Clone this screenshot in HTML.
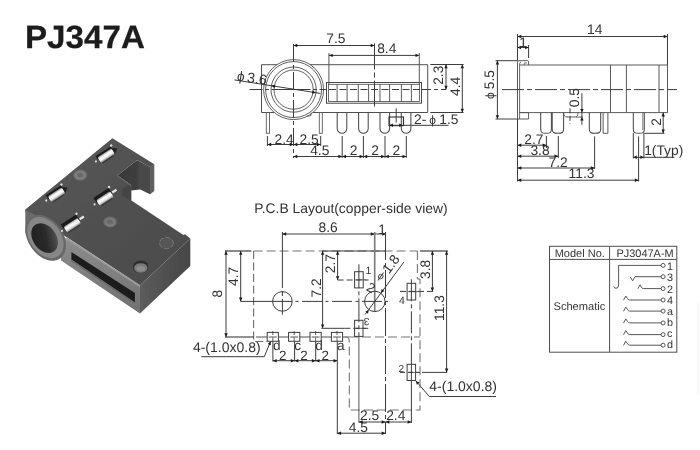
<!DOCTYPE html>
<html lang="en">
<head>
<meta charset="utf-8">
<title>PJ347A</title>
<style>
html,body{margin:0;padding:0;background:#fff;}
body{width:700px;height:450px;overflow:hidden;font-family:"Liberation Sans",Arial,Helvetica,sans-serif;}
svg{display:block;}
svg text{font-family:"Liberation Sans",Arial,Helvetica,sans-serif;text-rendering:geometricPrecision;}
</style>
</head>
<body>
<svg width="700" height="450" viewBox="0 0 700 450">
<rect x="0" y="0" width="700" height="450" fill="#ffffff"/>
<defs><filter id="jpg" x="0" y="0" width="700" height="450" filterUnits="userSpaceOnUse"><feGaussianBlur stdDeviation="0.4"/></filter></defs>
<g filter="url(#jpg)">
<text x="0" y="0" font-size="32.3" font-weight="bold" fill="#1c1c1c" stroke="#1c1c1c" stroke-width="0.25" transform="translate(25.0 47.6) scale(1.027 1)">PJ347A</text>
<defs>
<linearGradient id="gTop" x1="0" y1="0" x2="1" y2="1"><stop offset="0" stop-color="#585858"/><stop offset="0.5" stop-color="#505050"/><stop offset="1" stop-color="#4b4b4b"/></linearGradient>
<linearGradient id="gFront" x1="0" y1="0" x2="0" y2="1"><stop offset="0" stop-color="#8e8e8e"/><stop offset="1" stop-color="#707070"/></linearGradient>
<linearGradient id="gRight" x1="0" y1="0" x2="1" y2="0"><stop offset="0" stop-color="#5c5c5c"/><stop offset="0.4" stop-color="#525252"/><stop offset="1" stop-color="#464646"/></linearGradient>
<linearGradient id="gHole" x1="0" y1="0.2" x2="1" y2="0.8"><stop offset="0" stop-color="#202020"/><stop offset="0.55" stop-color="#2a2a2a"/><stop offset="0.82" stop-color="#444444"/><stop offset="1" stop-color="#5c5c5c"/></linearGradient>
<linearGradient id="gMetal" x1="0" y1="0" x2="1" y2="1"><stop offset="0" stop-color="#9a9a9a"/><stop offset="0.35" stop-color="#ffffff"/><stop offset="0.6" stop-color="#e8e8e8"/><stop offset="1" stop-color="#6a6a6a"/></linearGradient>
<linearGradient id="gNotch" x1="0" y1="0" x2="1" y2="0"><stop offset="0" stop-color="#363636"/><stop offset="0.55" stop-color="#3e3e3e"/><stop offset="0.7" stop-color="#484848"/><stop offset="1" stop-color="#4a4a4a"/></linearGradient>
<linearGradient id="gMetal2" x1="0" y1="0" x2="0" y2="1"><stop offset="0" stop-color="#8c8c8c"/><stop offset="0.3" stop-color="#ffffff"/><stop offset="0.65" stop-color="#efefef"/><stop offset="1" stop-color="#7a7a7a"/></linearGradient>
<filter id="soft" x="-5%" y="-5%" width="110%" height="110%"><feGaussianBlur stdDeviation="0.55"/></filter>
</defs>
<g filter="url(#soft)">
<polygon points="150,166.5 154.3,164.3 154.3,191 150,194.5" fill="#606060"/>
<polygon points="137.1,160 150,166.9 150,194.3 140.3,189.5 131.1,190.5 131.1,184.9 117.4,175.4" fill="url(#gNotch)"/>
<polygon points="25.3,209.6 112.4,138.3 154.3,164.3 150,166.9 137.1,160 117.4,175.4 131.1,184.9 131.1,200.3 183.4,235.1 185,234.2 190.3,238.6 140,285.3 66.4,237 25.3,212" fill="url(#gTop)"/>
<polygon points="131.3,184.3 131.3,200.5 122,195.6 122.5,188.5" fill="#454545"/>
<polygon points="117.4,175.4 131.1,184.9 131.1,186.3 117.4,176.8" fill="#666"/>
<polygon points="25.3,209.6 40,218 40,250 25.3,232.8" fill="#6c6c6c"/>
<polygon points="140,285.3 190.3,238.6 190.3,266 140,313.6" fill="url(#gRight)"/>
<polygon points="62,236 140,285.3 140,313.6 61,260.4" fill="url(#gFront)"/>
<polygon points="66.4,237 140,285.3 140,287.3 66.4,239.2" fill="#9c9c9c"/>
<polygon points="71.4,251.9 134.9,293 134.9,302.4 71.4,259.6" fill="#1e1e1e"/>
<polygon points="71.4,259.6 134.9,302.4 134.9,304 71.4,261.4" fill="#6a6a6a"/>
<ellipse cx="45.7" cy="237.8" rx="17.4" ry="25.2" transform="rotate(-35 45.7 237.8)" fill="#686868"/>
<ellipse cx="45.4" cy="237.6" rx="15.6" ry="22.6" transform="rotate(-35 45.4 237.6)" fill="#868686"/>
<ellipse cx="44.6" cy="238.1" rx="11.6" ry="16.3" transform="rotate(-35 44.6 238.1)" fill="url(#gHole)"/>
<ellipse cx="80.2" cy="175.0" rx="7.0" ry="5.6000000000000005" fill="#6e6e6e"/>
<ellipse cx="80.2" cy="175.3" rx="5.4" ry="4.32" fill="#7e7e7e"/>
<polygon points="77.2,173.2 80.7,172.4 83.4,174.4 82.8,177.0 79.4,177.6 76.8,175.8" fill="#5a5a5a" opacity="0.55"/>
<ellipse cx="110.1" cy="221.9" rx="6.8" ry="5.44" fill="#6c6c6c"/>
<ellipse cx="110.1" cy="222.20000000000002" rx="5.199999999999999" ry="4.159999999999999" fill="#7c7c7c"/>
<polygon points="107.1,220.1 110.6,219.3 113.3,221.3 112.69999999999999,223.9 109.3,224.5 106.69999999999999,222.70000000000002" fill="#5a5a5a" opacity="0.55"/>
<ellipse cx="166.4" cy="243" rx="6.9" ry="5.6" fill="#565656" stroke="#808080" stroke-width="0.9" stroke-dasharray="5 2"/>
<ellipse cx="140.7" cy="266.8" rx="7.9" ry="6.3" fill="#2e2e2e"/>
<ellipse cx="140.8" cy="268.0" rx="6.7" ry="4.8" fill="#7a7a7a"/>
<ellipse cx="140.8" cy="268.6" rx="4.2" ry="2.6" fill="#8e8e8e"/>
<g transform="translate(106.1 155.5) rotate(-33)">
<rect x="-9.25" y="-5.0" width="18.0" height="4.5" fill="#1a1a1a"/>
<polygon points="7.75,-4.0 13.25,0 7.75,4.0" fill="#242424"/>
<rect x="-8.25" y="-3.2" width="16.5" height="7.0" rx="1.6" fill="url(#gMetal2)"/>
<rect x="-7.25" y="3.5" width="13.5" height="1.4" fill="#3a3a3a"/>
<circle cx="9.75" cy="-5.6" r="1.2" fill="#e0e0e0"/>
<circle cx="-11.75" cy="-0.6" r="1.1" fill="#d8d8d8"/>
</g>
<g transform="translate(56.4 194.6) rotate(-33)">
<rect x="-9.25" y="-5.2" width="18.0" height="4.7" fill="#1a1a1a"/>
<polygon points="7.75,-4.0 13.25,0 7.75,4.0" fill="#242424"/>
<rect x="-8.25" y="-3.2" width="16.5" height="7.0" rx="1.6" fill="url(#gMetal2)"/>
<rect x="-7.25" y="3.5" width="13.5" height="1.4" fill="#3a3a3a"/>
<circle cx="9.75" cy="-5.8" r="1.2" fill="#e0e0e0"/>
<circle cx="-11.75" cy="-0.6" r="1.1" fill="#d8d8d8"/>
</g>
<g transform="translate(104.8 198.4) rotate(-33)">
<rect x="-9.25" y="-6.6" width="18.0" height="6.1" fill="#1a1a1a"/>
<rect x="-8.25" y="-3.2" width="16.5" height="7.0" rx="1.6" fill="url(#gMetal2)"/>
<rect x="-7.25" y="3.5" width="13.5" height="1.4" fill="#3a3a3a"/>
<rect x="9.45" y="-2.0" width="5" height="2.4" fill="#e4e4e4"/>
<circle cx="9.75" cy="-7.199999999999999" r="1.2" fill="#e0e0e0"/>
<circle cx="-11.75" cy="-0.6" r="1.1" fill="#d8d8d8"/>
</g>
<g transform="translate(72.2 225.0) rotate(-33)">
<rect x="-9.25" y="-6.6" width="18.0" height="6.1" fill="#1a1a1a"/>
<rect x="-8.25" y="-3.2" width="16.5" height="7.0" rx="1.6" fill="url(#gMetal2)"/>
<rect x="-7.25" y="3.5" width="13.5" height="1.4" fill="#3a3a3a"/>
<rect x="9.45" y="-2.0" width="5" height="2.4" fill="#e4e4e4"/>
<circle cx="9.75" cy="-7.199999999999999" r="1.2" fill="#e0e0e0"/>
<circle cx="-11.75" cy="-0.6" r="1.1" fill="#d8d8d8"/>
</g>
</g>
<path d="M276.8 64.7 L261.5 64.7 L261.5 112.5 L274 112.5 M313 112.5 L427.7 112.5 L427.7 64.7 L310 64.7" stroke="#505050" stroke-width="1" fill="none"/>
<circle cx="293.6" cy="89.6" r="30.0" stroke="#505050" stroke-width="0.9" fill="none"/>
<circle cx="293.6" cy="89.6" r="28.0" stroke="#505050" stroke-width="0.9" fill="none"/>
<circle cx="293.6" cy="89.6" r="22.6" stroke="#505050" stroke-width="0.9" fill="none"/>
<circle cx="293.6" cy="89.6" r="19.6" stroke="#505050" stroke-width="0.9" fill="none"/>
<path d="M311 112.5 L311 115.5 L306 116.5" stroke="#5a5a5a" stroke-width="0.9" fill="none"/>
<rect x="326.5" y="82.5" width="95.0" height="20.7" rx="0" stroke="#484848" stroke-width="1" fill="none"/>
<rect x="328.5" y="84.3" width="91.0" height="17.2" rx="0" stroke="#484848" stroke-width="0.8" fill="none"/>
<line x1="337.1" y1="84.3" x2="337.1" y2="101.5" stroke="#404040" stroke-width="0.85"/>
<line x1="347.1" y1="84.3" x2="347.1" y2="101.5" stroke="#404040" stroke-width="0.85"/>
<line x1="358.3" y1="84.3" x2="358.3" y2="101.5" stroke="#404040" stroke-width="0.85"/>
<line x1="368.6" y1="84.3" x2="368.6" y2="101.5" stroke="#404040" stroke-width="0.85"/>
<line x1="380" y1="84.3" x2="380" y2="101.5" stroke="#404040" stroke-width="0.85"/>
<line x1="389.6" y1="84.3" x2="389.6" y2="101.5" stroke="#404040" stroke-width="0.85"/>
<line x1="401.4" y1="84.3" x2="401.4" y2="101.5" stroke="#404040" stroke-width="0.85"/>
<line x1="411.4" y1="84.3" x2="411.4" y2="101.5" stroke="#404040" stroke-width="0.85"/>
<line x1="249.5" y1="89.5" x2="326" y2="89.5" stroke="#3c3c3c" stroke-width="1" stroke-dasharray="13 2.5 4 2.5 39 2.5 4 2.5 20"/>
<line x1="329" y1="89.5" x2="420" y2="89.5" stroke="#3c3c3c" stroke-width="1" stroke-dasharray="7 3.5"/>
<line x1="422" y1="89.5" x2="446" y2="89.5" stroke="#3c3c3c" stroke-width="1" stroke-dasharray="9 3 4 3"/>
<line x1="293.5" y1="44" x2="293.5" y2="158" stroke="#3c3c3c" stroke-width="1" stroke-dasharray="18 3 4 3"/>
<line x1="374.5" y1="43.5" x2="374.5" y2="108" stroke="#3c3c3c" stroke-width="1" stroke-dasharray="26 3 5 3"/>
<rect x="266.3" y="112.5" width="3.2" height="20.8" rx="0" stroke="#5a5a5a" stroke-width="0.9" fill="none"/>
<rect x="319.3" y="112.5" width="3.0" height="20.8" rx="0" stroke="#5a5a5a" stroke-width="0.9" fill="none"/>
<path d="M337.2 112.5 L337.2 128.5 A4.8 4.8 0 0 0 346.8 128.5 L346.8 112.5" stroke="#4a4a4a" stroke-width="1.05" fill="none"/>
<path d="M358.59999999999997 112.5 L358.59999999999997 128.5 A4.8 4.8 0 0 0 368.2 128.5 L368.2 112.5" stroke="#4a4a4a" stroke-width="1.05" fill="none"/>
<path d="M380.0 112.5 L380.0 128.5 A4.8 4.8 0 0 0 389.6 128.5 L389.6 112.5" stroke="#4a4a4a" stroke-width="1.05" fill="none"/>
<path d="M401.3 112.5 L401.3 128.5 A4.8 4.8 0 0 0 410.90000000000003 128.5 L410.90000000000003 112.5" stroke="#4a4a4a" stroke-width="1.05" fill="none"/>
<line x1="293.5" y1="45.5" x2="374.5" y2="45.5" stroke="#3c3c3c" stroke-width="1"/>
<polygon points="293.50,45.50 297.30,43.80 297.30,47.20" fill="#1a1a1a"/>
<polygon points="374.50,45.50 370.70,47.20 370.70,43.80" fill="#1a1a1a"/>
<text x="326.3" y="42.6" font-size="13.8" fill="#333" text-anchor="start">7.5</text>
<line x1="328.9" y1="55.4" x2="419.3" y2="55.4" stroke="#3c3c3c" stroke-width="1"/>
<polygon points="328.90,55.40 332.70,53.70 332.70,57.10" fill="#1a1a1a"/>
<polygon points="419.30,55.40 415.50,57.10 415.50,53.70" fill="#1a1a1a"/>
<line x1="328.9" y1="53" x2="328.9" y2="84" stroke="#555" stroke-width="1"/>
<line x1="419.3" y1="53" x2="419.3" y2="85" stroke="#555" stroke-width="1"/>
<text x="377.2" y="52.9" font-size="13.8" fill="#333" text-anchor="start">8.4</text>
<line x1="234.4" y1="79.9" x2="320.4" y2="93.4" stroke="#3c3c3c" stroke-width="1"/>
<polygon points="271.00,85.70 275.21,84.64 274.69,88.00" fill="#1a1a1a"/>
<polygon points="316.20,92.80 311.99,93.86 312.51,90.50" fill="#1a1a1a"/>
<text x="236.6" y="80.2" font-size="14.2" fill="#333" text-anchor="start" transform="rotate(8.5 236.6 80.2)"><tspan font-size="13.5">ϕ</tspan><tspan dx="2.6" dy="0.4">3.6</tspan></text>
<line x1="430.3" y1="64.5" x2="463.6" y2="64.5" stroke="#3c3c3c" stroke-width="1"/>
<line x1="430.3" y1="112.5" x2="463.6" y2="112.5" stroke="#3c3c3c" stroke-width="1"/>
<line x1="446" y1="64.5" x2="446" y2="89.5" stroke="#3c3c3c" stroke-width="1"/>
<polygon points="446.00,64.50 447.70,68.30 444.30,68.30" fill="#1a1a1a"/>
<polygon points="446.00,89.50 444.30,85.70 447.70,85.70" fill="#1a1a1a"/>
<line x1="462.3" y1="64.5" x2="462.3" y2="112.5" stroke="#3c3c3c" stroke-width="1"/>
<polygon points="462.30,64.50 464.00,68.30 460.60,68.30" fill="#1a1a1a"/>
<polygon points="462.30,112.50 460.60,108.70 464.00,108.70" fill="#1a1a1a"/>
<text x="442.6" y="84.8" font-size="13.8" fill="#333" text-anchor="start" transform="rotate(-90 442.6 84.8)">2.3</text>
<text x="459.6" y="96" font-size="13.8" fill="#333" text-anchor="start" transform="rotate(-90 459.6 96)">4.4</text>
<rect x="389.0" y="117" width="14.5" height="8.6" rx="0" stroke="#333" stroke-width="1.15" fill="none"/>
<line x1="396.2" y1="108.3" x2="396.2" y2="122.6" stroke="#3c3c3c" stroke-width="1"/>
<line x1="389" y1="125.3" x2="448.6" y2="125.3" stroke="#3c3c3c" stroke-width="1"/>
<polygon points="389.50,125.30 393.00,123.60 393.00,127.00" fill="#1a1a1a"/>
<polygon points="402.70,125.30 399.20,127.00 399.20,123.60" fill="#1a1a1a"/>
<text x="414.0" y="123.7" font-size="13.8" fill="#333" text-anchor="start">2-<tspan font-size="12" dx="3">ϕ</tspan><tspan dx="3.2">1.5</tspan></text>
<line x1="267.4" y1="136" x2="267.4" y2="146" stroke="#3c3c3c" stroke-width="1"/>
<line x1="320.7" y1="136" x2="320.7" y2="146" stroke="#3c3c3c" stroke-width="1"/>
<line x1="267.4" y1="144.5" x2="293.5" y2="144.5" stroke="#3c3c3c" stroke-width="1"/>
<polygon points="267.40,144.50 271.20,142.80 271.20,146.20" fill="#1a1a1a"/>
<polygon points="293.50,144.50 289.70,146.20 289.70,142.80" fill="#1a1a1a"/>
<line x1="293.5" y1="144.5" x2="320.7" y2="144.5" stroke="#3c3c3c" stroke-width="1"/>
<polygon points="293.50,144.50 297.30,142.80 297.30,146.20" fill="#1a1a1a"/>
<polygon points="320.70,144.50 316.90,146.20 316.90,142.80" fill="#1a1a1a"/>
<text x="274.5" y="143.5" font-size="13.8" fill="#333" text-anchor="start">2.4</text>
<text x="299.5" y="143.5" font-size="13.8" fill="#333" text-anchor="start">2.5</text>
<line x1="342.2" y1="136" x2="342.2" y2="158" stroke="#3c3c3c" stroke-width="1"/>
<line x1="363.4" y1="136" x2="363.4" y2="158" stroke="#3c3c3c" stroke-width="1"/>
<line x1="385" y1="136" x2="385" y2="158" stroke="#3c3c3c" stroke-width="1"/>
<line x1="406.3" y1="136" x2="406.3" y2="158" stroke="#3c3c3c" stroke-width="1"/>
<line x1="293.5" y1="156.5" x2="342.2" y2="156.5" stroke="#3c3c3c" stroke-width="1"/>
<polygon points="293.50,156.50 297.30,154.80 297.30,158.20" fill="#1a1a1a"/>
<polygon points="342.20,156.50 338.40,158.20 338.40,154.80" fill="#1a1a1a"/>
<line x1="342.2" y1="156.5" x2="363.4" y2="156.5" stroke="#3c3c3c" stroke-width="1"/>
<polygon points="342.20,156.50 346.00,154.80 346.00,158.20" fill="#1a1a1a"/>
<polygon points="363.40,156.50 359.60,158.20 359.60,154.80" fill="#1a1a1a"/>
<line x1="363.4" y1="156.5" x2="385" y2="156.5" stroke="#3c3c3c" stroke-width="1"/>
<polygon points="363.40,156.50 367.20,154.80 367.20,158.20" fill="#1a1a1a"/>
<polygon points="385.00,156.50 381.20,158.20 381.20,154.80" fill="#1a1a1a"/>
<line x1="385" y1="156.5" x2="406.3" y2="156.5" stroke="#3c3c3c" stroke-width="1"/>
<polygon points="385.00,156.50 388.80,154.80 388.80,158.20" fill="#1a1a1a"/>
<polygon points="406.30,156.50 402.50,158.20 402.50,154.80" fill="#1a1a1a"/>
<text x="310.2" y="154.7" font-size="13.8" fill="#333" text-anchor="start">4.5</text>
<text x="349.7" y="154.6" font-size="13.8" fill="#333" text-anchor="start">2</text>
<text x="371.2" y="154.6" font-size="13.8" fill="#333" text-anchor="start">2</text>
<text x="392.6" y="154.6" font-size="13.8" fill="#333" text-anchor="start">2</text>
<line x1="517.5" y1="36.5" x2="667.5" y2="36.5" stroke="#3c3c3c" stroke-width="1"/>
<polygon points="517.50,36.50 521.30,34.80 521.30,38.20" fill="#1a1a1a"/>
<polygon points="667.50,36.50 663.70,38.20 663.70,34.80" fill="#1a1a1a"/>
<line x1="517.5" y1="34" x2="517.5" y2="60.7" stroke="#3c3c3c" stroke-width="1"/>
<line x1="667.5" y1="34" x2="667.5" y2="65" stroke="#3c3c3c" stroke-width="1"/>
<text x="587.0" y="33.6" font-size="13.8" fill="#333" text-anchor="start">14</text>
<line x1="517.5" y1="47.5" x2="528.6" y2="47.5" stroke="#3c3c3c" stroke-width="1"/>
<polygon points="517.50,47.50 521.00,45.80 521.00,49.20" fill="#1a1a1a"/>
<polygon points="528.60,47.50 525.10,49.20 525.10,45.80" fill="#1a1a1a"/>
<line x1="528.6" y1="45" x2="528.6" y2="58" stroke="#3c3c3c" stroke-width="1"/>
<text x="519.2" y="47.3" font-size="13.8" fill="#333" text-anchor="start">1</text>
<path d="M517.5 119 L517.5 62.2 Q517.5 60.7 519 60.7 L527.6 60.7 Q528.6 60.7 528.6 61.7 L528.6 65" stroke="#5a5a5a" stroke-width="1" fill="none"/>
<path d="M524.3 65 L524.3 63 L527 63" stroke="#5a5a5a" stroke-width="0.8" fill="none"/>
<line x1="517.5" y1="119" x2="517.5" y2="181.5" stroke="#3c3c3c" stroke-width="1"/>
<path d="M519.6 119 L519.6 63.5 Q519.6 62.3 521 62.3" stroke="#5a5a5a" stroke-width="0.9" fill="none"/>
<path d="M519.4 112.6 L528.6 112.6 L528.6 119 L517.5 119" stroke="#5a5a5a" stroke-width="1" fill="none"/>
<path d="M519.4 65 L667.5 65 L667.5 112.6 L519.4 112.6" stroke="#5a5a5a" stroke-width="1" fill="none"/>
<line x1="610.5" y1="65" x2="610.5" y2="112.6" stroke="#5a5a5a" stroke-width="1"/>
<line x1="626.4" y1="65" x2="626.4" y2="112.6" stroke="#5a5a5a" stroke-width="1"/>
<line x1="659" y1="65" x2="659" y2="112.6" stroke="#5a5a5a" stroke-width="1"/>
<line x1="502" y1="89.6" x2="677" y2="89.6" stroke="#3c3c3c" stroke-width="1" stroke-dasharray="22 3 5 3"/>
<line x1="495.5" y1="60.7" x2="517.5" y2="60.7" stroke="#3c3c3c" stroke-width="1"/>
<line x1="495.5" y1="119" x2="517.5" y2="119" stroke="#3c3c3c" stroke-width="1"/>
<line x1="497.4" y1="60.7" x2="497.4" y2="119" stroke="#3c3c3c" stroke-width="1"/>
<polygon points="497.40,60.70 499.10,64.50 495.70,64.50" fill="#1a1a1a"/>
<polygon points="497.40,119.00 495.70,115.20 499.10,115.20" fill="#1a1a1a"/>
<text x="494.3" y="99" font-size="13.8" fill="#333" text-anchor="start" transform="rotate(-90 494.3 99)"><tspan font-size="12">ϕ</tspan><tspan dx="3">5.5</tspan></text>
<path d="M540.7 112.6 L540.7 129.02000000000004 C540.7 132.8 542.2 133.3 546.05 133.3 C549.9 133.3 551.4 132.8 551.4 129.02000000000004 L551.4 112.6" stroke="#4a4a4a" stroke-width="1.05" fill="none"/>
<path d="M552.2 112.6 L552.2 128.74 C552.2 132.8 553.7 133.3 557.9000000000001 133.3 C562.1 133.3 563.6 132.8 563.6 128.74 L563.6 112.6" stroke="#4a4a4a" stroke-width="1.05" fill="none"/>
<path d="M589.3 112.6 L589.3 128.73999999999998 C589.3 132.8 590.8 133.3 595.0 133.3 C599.2 133.3 600.7 132.8 600.7 128.73999999999998 L600.7 112.6" stroke="#4a4a4a" stroke-width="1.05" fill="none"/>
<path d="M603.1 112.6 L603.1 133.3 L607.9 133.3 L607.9 112.6" stroke="#5a5a5a" stroke-width="1" fill="none"/>
<path d="M633.3 112.6 L633.3 128.9 C633.3 132.8 634.8 133.3 638.8 133.3 C642.8 133.3 644.3 132.8 644.3 128.9 L644.3 112.6" stroke="#4a4a4a" stroke-width="1.05" fill="none"/>
<line x1="642.8" y1="112.6" x2="642.8" y2="130" stroke="#5a5a5a" stroke-width="0.8"/>
<path d="M563.6 112.6 Q563.6 117 567 117 L575 117 Q578 117 578 112.6" stroke="#5a5a5a" stroke-width="1" fill="none"/>
<line x1="570" y1="108.3" x2="570" y2="124" stroke="#3c3c3c" stroke-width="1" stroke-dasharray="5 2.5"/>
<line x1="581.9" y1="93.3" x2="581.9" y2="124.7" stroke="#3c3c3c" stroke-width="1"/>
<polygon points="581.90,112.60 580.20,109.10 583.60,109.10" fill="#1a1a1a"/>
<polygon points="581.90,117.10 583.60,120.60 580.20,120.60" fill="#1a1a1a"/>
<line x1="576" y1="117.1" x2="583" y2="117.1" stroke="#3c3c3c" stroke-width="0.8"/>
<text x="579.0" y="107.2" font-size="13.8" fill="#333" text-anchor="start" transform="rotate(-90 579.0 107.2)">0.5</text>
<line x1="644.3" y1="133.3" x2="664.5" y2="133.3" stroke="#3c3c3c" stroke-width="1"/>
<line x1="663.2" y1="112.6" x2="663.2" y2="133.3" stroke="#3c3c3c" stroke-width="1"/>
<polygon points="663.20,112.60 664.90,116.40 661.50,116.40" fill="#1a1a1a"/>
<polygon points="663.20,133.30 661.50,129.50 664.90,129.50" fill="#1a1a1a"/>
<text x="660.6" y="125.8" font-size="13.8" fill="#333" text-anchor="start" transform="rotate(-90 660.6 125.8)">2</text>
<line x1="546.4" y1="136" x2="546.4" y2="148" stroke="#3c3c3c" stroke-width="1"/>
<line x1="558.3" y1="136" x2="558.3" y2="158" stroke="#3c3c3c" stroke-width="1"/>
<line x1="594.6" y1="136.4" x2="594.6" y2="169" stroke="#3c3c3c" stroke-width="1"/>
<line x1="638.6" y1="136.4" x2="638.6" y2="181.5" stroke="#3c3c3c" stroke-width="1"/>
<line x1="517.5" y1="145.2" x2="546.4" y2="145.2" stroke="#3c3c3c" stroke-width="1"/>
<polygon points="517.50,145.20 521.30,143.50 521.30,146.90" fill="#1a1a1a"/>
<polygon points="546.40,145.20 542.60,146.90 542.60,143.50" fill="#1a1a1a"/>
<line x1="517.5" y1="156.2" x2="558.3" y2="156.2" stroke="#3c3c3c" stroke-width="1"/>
<polygon points="517.50,156.20 521.30,154.50 521.30,157.90" fill="#1a1a1a"/>
<polygon points="558.30,156.20 554.50,157.90 554.50,154.50" fill="#1a1a1a"/>
<line x1="517.5" y1="168" x2="594.6" y2="168" stroke="#3c3c3c" stroke-width="1"/>
<polygon points="517.50,168.00 521.30,166.30 521.30,169.70" fill="#1a1a1a"/>
<polygon points="594.60,168.00 590.80,169.70 590.80,166.30" fill="#1a1a1a"/>
<line x1="517.5" y1="180.2" x2="638.6" y2="180.2" stroke="#3c3c3c" stroke-width="1"/>
<polygon points="517.50,180.20 521.30,178.50 521.30,181.90" fill="#1a1a1a"/>
<polygon points="638.60,180.20 634.80,181.90 634.80,178.50" fill="#1a1a1a"/>
<text x="524.3" y="143.7" font-size="13.8" fill="#333" text-anchor="start">2.7</text>
<text x="530.4" y="155" font-size="13.8" fill="#333" text-anchor="start">3.8</text>
<text x="548.5" y="166.5" font-size="13.8" fill="#333" text-anchor="start">7.2</text>
<text x="568.6" y="178.3" font-size="13.8" fill="#333" text-anchor="start">11.3</text>
<line x1="633.3" y1="133" x2="633.3" y2="158.5" stroke="#3c3c3c" stroke-width="1"/>
<line x1="643.9" y1="133" x2="643.9" y2="158.5" stroke="#3c3c3c" stroke-width="1"/>
<line x1="633.3" y1="157.3" x2="674.5" y2="157.3" stroke="#3c3c3c" stroke-width="1"/>
<polygon points="633.30,157.30 636.80,155.60 636.80,159.00" fill="#1a1a1a"/>
<polygon points="643.90,157.30 640.40,159.00 640.40,155.60" fill="#1a1a1a"/>
<text x="644.2" y="155.2" font-size="13.8" fill="#333" text-anchor="start">1(Typ)</text>
<text x="254.2" y="212.9" font-size="13.9" fill="#333" text-anchor="start">P.C.B Layout(copper-side view)</text>
<path d="M253.6 251 L417.4 251" stroke="#747474" stroke-width="1.1" fill="none" stroke-dasharray="9 4"/>
<path d="M253.6 251 L253.6 341.5 L267 341.5" stroke="#707070" stroke-width="1.1" fill="none" stroke-dasharray="8 3.5"/>
<path d="M417.4 251 L417.4 278.5 L420 279.5 L420 410 L349.3 410 L349.3 341 Q349.3 337 345 337" stroke="#747474" stroke-width="1.1" fill="none" stroke-dasharray="9 4"/>
<line x1="225" y1="337" x2="254" y2="337" stroke="#3c3c3c" stroke-width="1.1"/>
<path d="M256 337 L349 337" stroke="#8a8a8a" stroke-width="1.6" fill="none"/>
<path d="M349 337 L420 337" stroke="#747474" stroke-width="1.2" fill="none" stroke-dasharray="9 4"/>
<line x1="225" y1="251" x2="251.4" y2="251" stroke="#3c3c3c" stroke-width="1.2"/>
<line x1="322" y1="251" x2="385.7" y2="251" stroke="#3c3c3c" stroke-width="1.2"/>
<line x1="420" y1="251" x2="448" y2="251" stroke="#3c3c3c" stroke-width="1.2"/>
<line x1="282.4" y1="234" x2="374.6" y2="234" stroke="#3c3c3c" stroke-width="1"/>
<polygon points="282.40,234.00 286.20,232.30 286.20,235.70" fill="#1a1a1a"/>
<polygon points="374.60,234.00 370.80,235.70 370.80,232.30" fill="#1a1a1a"/>
<line x1="374.6" y1="234" x2="385.5" y2="234" stroke="#3c3c3c" stroke-width="1"/>
<polygon points="385.50,234.00 382.30,235.70 382.30,232.30" fill="#1a1a1a"/>
<text x="318.6" y="232.4" font-size="13.8" fill="#333" text-anchor="start">8.6</text>
<text x="378.2" y="233.6" font-size="13.8" fill="#333" text-anchor="start">1</text>
<line x1="282.4" y1="232" x2="282.4" y2="314.5" stroke="#3c3c3c" stroke-width="1" stroke-dasharray="56 3 5 3"/>
<line x1="374.7" y1="232" x2="374.7" y2="311.5" stroke="#777" stroke-width="1.6"/>
<line x1="385.5" y1="232" x2="385.5" y2="434" stroke="#3c3c3c" stroke-width="1" stroke-dasharray="28 3 4 3"/>
<circle cx="282.4" cy="301.4" r="9.8" stroke="#3c3c3c" stroke-width="1" fill="none"/>
<circle cx="374.8" cy="301.4" r="10.2" stroke="#3c3c3c" stroke-width="1" fill="none"/>
<line x1="240.7" y1="301.4" x2="272" y2="301.4" stroke="#3c3c3c" stroke-width="1"/>
<line x1="272" y1="301.4" x2="388" y2="301.4" stroke="#3c3c3c" stroke-width="1" stroke-dasharray="20 3.5 3 3.5"/>
<line x1="226" y1="251" x2="226" y2="337" stroke="#3c3c3c" stroke-width="1"/>
<polygon points="226.00,251.00 227.70,254.80 224.30,254.80" fill="#1a1a1a"/>
<polygon points="226.00,337.00 224.30,333.20 227.70,333.20" fill="#1a1a1a"/>
<line x1="240.7" y1="251" x2="240.7" y2="301.4" stroke="#3c3c3c" stroke-width="1"/>
<polygon points="240.70,251.00 242.40,254.80 239.00,254.80" fill="#1a1a1a"/>
<polygon points="240.70,301.40 239.00,297.60 242.40,297.60" fill="#1a1a1a"/>
<text x="222.3" y="297.6" font-size="13.8" fill="#333" text-anchor="start" transform="rotate(-90 222.3 297.6)">8</text>
<text x="237.8" y="286" font-size="13.8" fill="#333" text-anchor="start" transform="rotate(-90 237.8 286)">4.7</text>
<line x1="322.6" y1="251" x2="322.6" y2="328.3" stroke="#3c3c3c" stroke-width="1"/>
<polygon points="322.60,251.00 324.30,254.80 320.90,254.80" fill="#1a1a1a"/>
<polygon points="322.60,328.30 320.90,324.50 324.30,324.50" fill="#1a1a1a"/>
<line x1="337.6" y1="251" x2="337.6" y2="280" stroke="#3c3c3c" stroke-width="1"/>
<polygon points="337.60,251.00 339.30,254.80 335.90,254.80" fill="#1a1a1a"/>
<polygon points="337.60,280.00 335.90,276.20 339.30,276.20" fill="#1a1a1a"/>
<text x="321.2" y="297.5" font-size="13.8" fill="#333" text-anchor="start" transform="rotate(-90 321.2 297.5)">7.2</text>
<text x="334.8" y="273.2" font-size="13.8" fill="#333" text-anchor="start" transform="rotate(-90 334.8 273.2)">2.7</text>
<line x1="337.6" y1="280" x2="368.6" y2="280" stroke="#3c3c3c" stroke-width="1" stroke-dasharray="6 3"/>
<line x1="321.4" y1="328.3" x2="344.3" y2="328.3" stroke="#3c3c3c" stroke-width="1"/>
<line x1="344.3" y1="328.3" x2="368.6" y2="328.3" stroke="#3c3c3c" stroke-width="1" stroke-dasharray="6 3"/>
<rect x="354.6" y="271.7" width="8.6" height="16.2" rx="0" stroke="#3c3c3c" stroke-width="1" fill="none"/>
<line x1="355.6" y1="279.79999999999995" x2="366.2" y2="279.79999999999995" stroke="#3c3c3c" stroke-width="0.8"/>
<rect x="354.6" y="320.3" width="8.4" height="16.1" rx="0" stroke="#3c3c3c" stroke-width="1" fill="none"/>
<line x1="355.6" y1="328.35" x2="366.0" y2="328.35" stroke="#3c3c3c" stroke-width="0.8"/>
<rect x="407.1" y="283.3" width="8.6" height="16.7" rx="0" stroke="#3c3c3c" stroke-width="1" fill="none"/>
<line x1="408.1" y1="291.65" x2="418.7" y2="291.65" stroke="#3c3c3c" stroke-width="0.8"/>
<rect x="407.1" y="364.3" width="8.5" height="16.2" rx="0" stroke="#3c3c3c" stroke-width="1" fill="none"/>
<line x1="408.1" y1="372.4" x2="418.6" y2="372.4" stroke="#3c3c3c" stroke-width="0.8"/>
<line x1="358.9" y1="264.3" x2="358.9" y2="336" stroke="#3c3c3c" stroke-width="1" stroke-dasharray="24 3 4 3"/>
<line x1="358.9" y1="336.4" x2="358.9" y2="422.5" stroke="#555" stroke-width="1"/>
<line x1="411.4" y1="279.3" x2="411.4" y2="364" stroke="#3c3c3c" stroke-width="1" stroke-dasharray="22 3 4 3"/>
<line x1="411.4" y1="364" x2="411.4" y2="423" stroke="#3c3c3c" stroke-width="1"/>
<text x="365.6" y="273.6" font-size="10.5" fill="#333" text-anchor="start">1</text>
<text x="369.6" y="318.4" font-size="10.5" fill="#333" text-anchor="start" transform="rotate(180 369.6 318.4)">3</text>
<text x="398.9" y="303.6" font-size="10.5" fill="#333" text-anchor="start">4</text>
<text x="398.5" y="372.0" font-size="10" fill="#333" text-anchor="start">2</text>
<text x="365.6" y="290.0" font-size="13.6" fill="#333" text-anchor="start" transform="rotate(28 365.6 290.0)">2</text>
<line x1="365" y1="314.6" x2="404" y2="261.9" stroke="#3c3c3c" stroke-width="1"/>
<polygon points="380.90,292.90 381.57,289.07 384.33,291.06" fill="#1a1a1a"/>
<polygon points="368.70,309.90 368.03,313.73 365.27,311.74" fill="#1a1a1a"/>
<text x="380.9" y="276.4" font-size="10.5" fill="#333" text-anchor="middle" dominant-baseline="central" transform="rotate(36 380.9 276.4)">ϕ</text>
<text x="389.0" y="274.4" font-size="13.8" fill="#333" text-anchor="start" transform="rotate(-53.5 389.0 274.4)">1.8</text>
<line x1="432.4" y1="251" x2="432.4" y2="291.4" stroke="#3c3c3c" stroke-width="1"/>
<polygon points="432.40,251.00 434.10,254.80 430.70,254.80" fill="#1a1a1a"/>
<polygon points="432.40,291.40 430.70,287.60 434.10,287.60" fill="#1a1a1a"/>
<line x1="446.6" y1="251" x2="446.6" y2="372.4" stroke="#3c3c3c" stroke-width="1"/>
<polygon points="446.60,251.00 448.30,254.80 444.90,254.80" fill="#1a1a1a"/>
<polygon points="446.60,372.40 444.90,368.60 448.30,368.60" fill="#1a1a1a"/>
<line x1="400" y1="291.4" x2="432.9" y2="291.4" stroke="#3c3c3c" stroke-width="1" stroke-dasharray="6 3"/>
<text x="429.8" y="279" font-size="13.8" fill="#333" text-anchor="start" transform="rotate(-90 429.8 279)">3.8</text>
<text x="444.0" y="321" font-size="13.8" fill="#333" text-anchor="start" transform="rotate(-90 444.0 321)">11.3</text>
<line x1="400" y1="372.4" x2="420" y2="372.4" stroke="#3c3c3c" stroke-width="1" stroke-dasharray="5 3"/>
<line x1="422" y1="372.4" x2="447.2" y2="372.4" stroke="#3c3c3c" stroke-width="1"/>
<path d="M415.7 380.7 L429.3 396.5 L496 396.5" stroke="#3c3c3c" stroke-width="1" fill="none"/>
<polygon points="415.90,380.90 419.48,382.43 416.91,384.66" fill="#1a1a1a"/>
<text x="429.3" y="391.3" font-size="14" fill="#333" text-anchor="start">4-(1.0x0.8)</text>
<rect x="267.2" y="332.4" width="11.2" height="8.9" rx="0" stroke="#3c3c3c" stroke-width="1" fill="#fff"/>
<line x1="272.8" y1="331" x2="272.8" y2="343" stroke="#3c3c3c" stroke-width="0.8" stroke-dasharray="4 2"/>
<line x1="268.8" y1="337" x2="276.8" y2="337" stroke="#747474" stroke-width="1.2"/>
<rect x="288.59999999999997" y="332.4" width="11.2" height="8.9" rx="0" stroke="#3c3c3c" stroke-width="1" fill="#fff"/>
<line x1="294.2" y1="331" x2="294.2" y2="343" stroke="#3c3c3c" stroke-width="0.8" stroke-dasharray="4 2"/>
<line x1="290.2" y1="337" x2="298.2" y2="337" stroke="#747474" stroke-width="1.2"/>
<rect x="310.0" y="332.4" width="11.2" height="8.9" rx="0" stroke="#3c3c3c" stroke-width="1" fill="#fff"/>
<line x1="315.6" y1="331" x2="315.6" y2="343" stroke="#3c3c3c" stroke-width="0.8" stroke-dasharray="4 2"/>
<line x1="311.6" y1="337" x2="319.6" y2="337" stroke="#747474" stroke-width="1.2"/>
<rect x="331.4" y="332.4" width="11.2" height="8.9" rx="0" stroke="#3c3c3c" stroke-width="1" fill="#fff"/>
<line x1="337.0" y1="331" x2="337.0" y2="343" stroke="#3c3c3c" stroke-width="0.8" stroke-dasharray="4 2"/>
<line x1="333.0" y1="337" x2="341.0" y2="337" stroke="#747474" stroke-width="1.2"/>
<text x="273.0" y="349.8" font-size="13.6" fill="#333" text-anchor="start">d</text>
<text x="294.2" y="349.8" font-size="13.6" fill="#333" text-anchor="start">c</text>
<text x="315.2" y="349.8" font-size="13.6" fill="#333" text-anchor="start">d</text>
<text x="336.9" y="349.8" font-size="13.6" fill="#333" text-anchor="start">a</text>
<line x1="272.9" y1="341.5" x2="272.9" y2="361.5" stroke="#3c3c3c" stroke-width="1"/>
<line x1="294.6" y1="341.5" x2="294.6" y2="361.5" stroke="#3c3c3c" stroke-width="1"/>
<line x1="315.7" y1="341.5" x2="315.7" y2="361.5" stroke="#3c3c3c" stroke-width="1"/>
<line x1="337.3" y1="341.5" x2="337.3" y2="434" stroke="#3c3c3c" stroke-width="1"/>
<line x1="272.9" y1="360.7" x2="294.6" y2="360.7" stroke="#3c3c3c" stroke-width="1"/>
<polygon points="272.90,360.70 276.70,359.00 276.70,362.40" fill="#1a1a1a"/>
<polygon points="294.60,360.70 290.80,362.40 290.80,359.00" fill="#1a1a1a"/>
<line x1="294.6" y1="360.7" x2="315.7" y2="360.7" stroke="#3c3c3c" stroke-width="1"/>
<polygon points="294.60,360.70 298.40,359.00 298.40,362.40" fill="#1a1a1a"/>
<polygon points="315.70,360.70 311.90,362.40 311.90,359.00" fill="#1a1a1a"/>
<line x1="315.7" y1="360.7" x2="337.3" y2="360.7" stroke="#3c3c3c" stroke-width="1"/>
<polygon points="315.70,360.70 319.50,359.00 319.50,362.40" fill="#1a1a1a"/>
<polygon points="337.30,360.70 333.50,362.40 333.50,359.00" fill="#1a1a1a"/>
<text x="279.0" y="359.5" font-size="13.4" fill="#333" text-anchor="start">2</text>
<text x="300.3" y="359.5" font-size="13.4" fill="#333" text-anchor="start">2</text>
<text x="321.6" y="359.5" font-size="13.4" fill="#333" text-anchor="start">2</text>
<path d="M201.4 356.7 L264.3 356.7 L270.5 341.6" stroke="#3c3c3c" stroke-width="1" fill="none"/>
<polygon points="270.60,341.40 270.87,345.28 267.71,344.01" fill="#1a1a1a"/>
<text x="192.9" y="352.3" font-size="14" fill="#333" text-anchor="start">4-(1.0x0.8)</text>
<line x1="358.9" y1="422" x2="385.5" y2="422" stroke="#3c3c3c" stroke-width="1"/>
<polygon points="358.90,422.00 362.70,420.30 362.70,423.70" fill="#1a1a1a"/>
<polygon points="385.50,422.00 381.70,423.70 381.70,420.30" fill="#1a1a1a"/>
<line x1="385.5" y1="422" x2="411.4" y2="422" stroke="#3c3c3c" stroke-width="1"/>
<polygon points="385.50,422.00 389.30,420.30 389.30,423.70" fill="#1a1a1a"/>
<polygon points="411.40,422.00 407.60,423.70 407.60,420.30" fill="#1a1a1a"/>
<line x1="337.3" y1="433.2" x2="385.5" y2="433.2" stroke="#3c3c3c" stroke-width="1"/>
<polygon points="337.30,433.20 341.10,431.50 341.10,434.90" fill="#1a1a1a"/>
<polygon points="385.50,433.20 381.70,434.90 381.70,431.50" fill="#1a1a1a"/>
<text x="360" y="420.1" font-size="13.8" fill="#333" text-anchor="start">2.5</text>
<text x="386.2" y="420.1" font-size="13.8" fill="#333" text-anchor="start">2.4</text>
<text x="348.8" y="431.5" font-size="13.8" fill="#333" text-anchor="start">4.5</text>
<rect x="549.5" y="246.3" width="127.3" height="105.9" rx="0" stroke="#505050" stroke-width="1" fill="none"/>
<line x1="549.5" y1="259.4" x2="676.8" y2="259.4" stroke="#505050" stroke-width="1"/>
<line x1="609.6" y1="246.3" x2="609.6" y2="352.2" stroke="#505050" stroke-width="1"/>
<text x="554.7" y="257.0" font-size="11.0" fill="#333" text-anchor="start">Model No.</text>
<text x="616.5" y="257.0" font-size="10.95" fill="#333" text-anchor="start">PJ3047A-M</text>
<text x="553.5" y="310.4" font-size="11.1" fill="#333" text-anchor="start">Schematic</text>
<path d="M661.1 265.4 L618.6 265.4 L618.6 285 Q618.6 288.3 616 288.3 Q614.3 288.3 613.7 286.5" stroke="#444" stroke-width="0.9" fill="none"/>
<circle cx="663.1" cy="265.4" r="2.0" stroke="#444" stroke-width="0.9" fill="none"/>
<path d="M661.1 276.7 L635 276.7 L632.6 280.8 L630.2 276.9" stroke="#444" stroke-width="0.9" fill="none"/>
<circle cx="663.1" cy="276.7" r="2.0" stroke="#444" stroke-width="0.9" fill="none"/>
<path d="M661.1 288.6 L643.4 288.6 Q642 288.6 641.3 287 L640 284.8 L637.8 288.8" stroke="#444" stroke-width="0.9" fill="none"/>
<circle cx="663.1" cy="288.6" r="2.0" stroke="#444" stroke-width="0.9" fill="none"/>
<path d="M661.1 300 L629.6 300 Q628.3 300 627.6 298.6 L625.8 296 L623.5 300.2" stroke="#444" stroke-width="0.9" fill="none"/>
<circle cx="663.1" cy="300" r="2.0" stroke="#444" stroke-width="0.9" fill="none"/>
<path d="M661.1 311.1 L629.6 311.1 Q628.3 311.1 627.6 309.70000000000005 L625.8 307.1 L623.5 311.3" stroke="#444" stroke-width="0.9" fill="none"/>
<circle cx="663.1" cy="311.1" r="2.0" stroke="#444" stroke-width="0.9" fill="none"/>
<path d="M661.1 322.9 L629.6 322.9 Q628.3 322.9 627.6 321.5 L625.8 318.9 L623.5 323.09999999999997" stroke="#444" stroke-width="0.9" fill="none"/>
<circle cx="663.1" cy="322.9" r="2.0" stroke="#444" stroke-width="0.9" fill="none"/>
<path d="M661.1 334.6 L629.6 334.6 Q628.3 334.6 627.6 333.20000000000005 L625.8 330.6 L623.5 334.8" stroke="#444" stroke-width="0.9" fill="none"/>
<circle cx="663.1" cy="334.6" r="2.0" stroke="#444" stroke-width="0.9" fill="none"/>
<path d="M661.1 345.2 L629.6 345.2 Q628.3 345.2 627.6 343.8 L625.8 341.2 L623.5 345.4" stroke="#444" stroke-width="0.9" fill="none"/>
<circle cx="663.1" cy="345.2" r="2.0" stroke="#444" stroke-width="0.9" fill="none"/>
<text x="666.9" y="269.5" font-size="10.8" fill="#333" text-anchor="start">1</text>
<text x="666.9" y="280.8" font-size="10.8" fill="#333" text-anchor="start">3</text>
<text x="666.9" y="292.59999999999997" font-size="10.8" fill="#333" text-anchor="start">2</text>
<text x="666.9" y="303.9" font-size="10.8" fill="#333" text-anchor="start">4</text>
<text x="666.9" y="315.0" font-size="10.8" fill="#333" text-anchor="start">a</text>
<text x="666.9" y="326.09999999999997" font-size="10.8" fill="#333" text-anchor="start">b</text>
<text x="666.9" y="337.3" font-size="10.8" fill="#333" text-anchor="start">c</text>
<text x="666.9" y="348.3" font-size="10.8" fill="#333" text-anchor="start">d</text>
<line x1="697.8" y1="303" x2="697.8" y2="395" stroke="#f1f1f1" stroke-width="1"/>
</g>
</svg>
</body>
</html>
